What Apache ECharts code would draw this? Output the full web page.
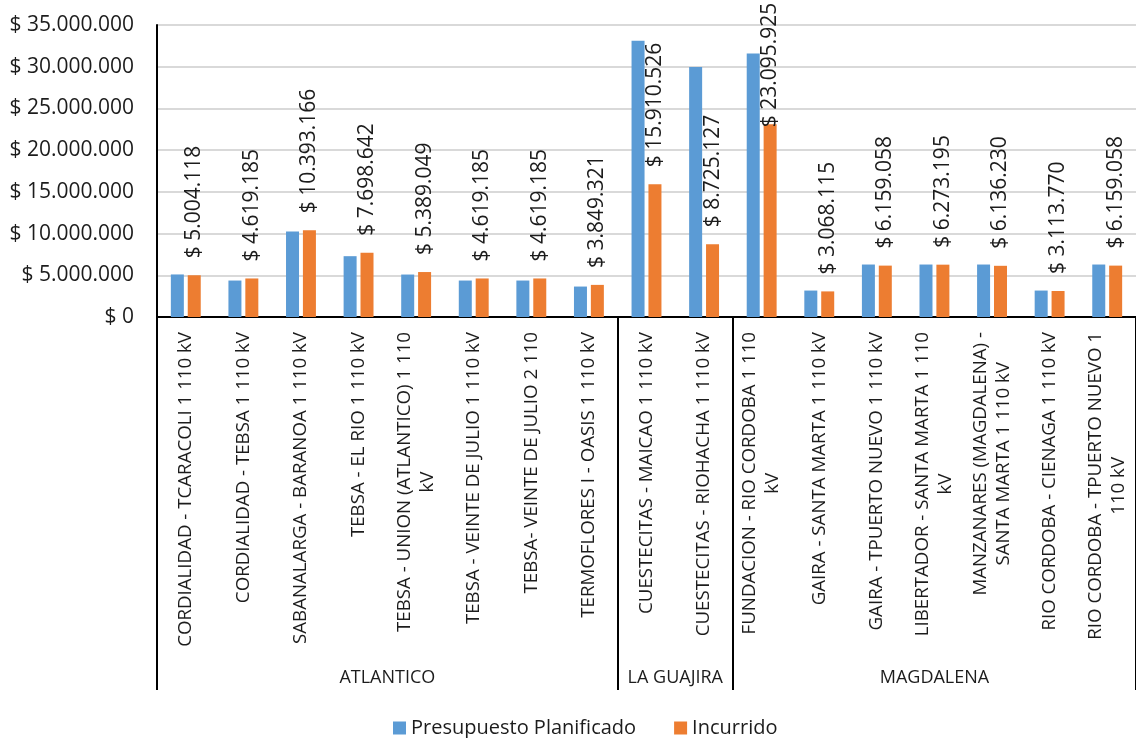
<!DOCTYPE html>
<html>
<head>
<meta charset="utf-8">
<script src="https://cdn.jsdelivr.net/npm/echarts@6/dist/echarts.min.js"></script>
<style>
  html, body { margin: 0; padding: 0; background: #ffffff; }
  #chart { width: 1136px; height: 738px; }
</style>
</head>
<body>
<div id="chart"></div>
<script>
// Transmission lines (grouped by department)
const categories = [
  'CORDIALIDAD - TCARACOLI 1 110 kV',
  'CORDIALIDAD - TEBSA 1 110 kV',
  'SABANALARGA - BARANOA 1 110 kV',
  'TEBSA - EL RIO 1 110 kV',
  'TEBSA - UNION (ATLANTICO) 1 110\nkV',
  'TEBSA - VEINTE DE JULIO 1 110 kV',
  'TEBSA- VEINTE DE JULIO 2 110',
  'TERMOFLORES I - OASIS 1 110 kV',
  'CUESTECITAS - MAICAO 1 110 kV',
  'CUESTECITAS - RIOHACHA 1 110 kV',
  'FUNDACION - RIO CORDOBA 1 110\nkV',
  'GAIRA - SANTA MARTA 1 110 kV',
  'GAIRA - TPUERTO NUEVO 1 110 kV',
  'LIBERTADOR - SANTA MARTA 1 110\nkV',
  'MANZANARES (MAGDALENA) -\nSANTA MARTA 1 110 kV',
  'RIO CORDOBA - CIENAGA 1 110 kV',
  'RIO CORDOBA - TPUERTO NUEVO 1\n110 kV'
];

const regions = ['ATLANTICO', 'LA GUAJIRA', 'MAGDALENA'];
const regionCounts = [8, 2, 7];

const planned = [
  5100000, 4370000, 10250000, 7290000, 5090000, 4370000, 4370000, 3650000,
  33100000, 29980000,
  31580000, 3170000, 6290000, 6290000, 6290000, 3170000, 6290000
];

const incurred = [
  5004118, 4619185, 10393166, 7698642, 5389049, 4619185, 4619185, 3849321,
  15910526, 8725127,
  23095925, 3068115, 6159058, 6273195, 6136230, 3113770, 6159058
];

const seriesNames = ['Presupuesto Planificado', 'Incurrido'];
const yMax = 35000000;
const yStep = 5000000;

const FONT = '"Open Sans", "Noto Sans", sans-serif';
const TEXT = '#1c1c1c';

function money(v) {
  return '$ ' + String(Math.round(v)).replace(/\B(?=(\d{3})+(?!\d))/g, '.');
}

// Region boundaries and centres on a 0..N scale that spans the category axis
const boundaries = [0];
const centers = [];
regionCounts.forEach(function (n) {
  const start = boundaries[boundaries.length - 1];
  centers.push(start + n / 2);
  boundaries.push(start + n);
});

const chart = echarts.init(document.getElementById('chart'), null, { renderer: 'canvas' });

chart.setOption({
  animation: false,
  backgroundColor: '#ffffff',
  textStyle: { fontFamily: FONT, color: TEXT },
  grid: { left: 157, top: 25, width: 58 * categories.length, height: 292, containLabel: false },
  legend: {
    data: seriesNames,
    left: 388,
    top: 713,
    itemWidth: 13,
    itemHeight: 13,
    itemGap: 38,
    icon: 'rect',
    textStyle: { fontFamily: FONT, fontSize: 20, color: TEXT }
  },
  xAxis: [
    {
      type: 'category',
      data: categories,
      axisLine: { show: true, lineStyle: { color: '#000000', width: 2 } },
      axisTick: { show: false },
      splitLine: { show: false },
      axisLabel: {
        interval: 0,
        rotate: 90,
        margin: 15,
        formatter: function (v) {
          return v.split('\n').map(function (s) { return '{c|' + s + '}'; }).join('\n');
        },
        rich: {
          c: { align: 'center', fontFamily: FONT, fontSize: 18.7, color: TEXT, lineHeight: 23 }
        }
      }
    },
    {
      // Department row beneath the line names, with separators between groups
      type: 'value',
      min: 0,
      max: categories.length,
      position: 'bottom',
      axisLine: { show: false },
      splitLine: { show: false },
      axisTick: {
        show: true,
        customValues: boundaries,
        length: 373,
        lineStyle: { color: '#000000', width: 2 }
      },
      axisLabel: {
        show: true,
        customValues: centers,
        margin: 352,
        fontFamily: FONT,
        fontSize: 18,
        color: TEXT,
        formatter: function (v) {
          const i = centers.findIndex(function (c) { return Math.abs(c - v) < 1e-6; });
          return i >= 0 ? regions[i] : '';
        }
      }
    }
  ],
  yAxis: {
    type: 'value',
    min: 0,
    max: yMax,
    interval: yStep,
    axisLine: { show: true, lineStyle: { color: '#000000', width: 2 } },
    axisTick: { show: false },
    splitLine: { show: true, lineStyle: { color: '#d9d9d9', width: 2 } },
    axisLabel: {
      margin: 23,
      fontFamily: FONT,
      fontSize: 21,
      color: TEXT,
      formatter: money
    }
  },
  series: [
    {
      name: seriesNames[0],
      type: 'bar',
      xAxisIndex: 0,
      data: planned,
      barWidth: 13,
      barGap: '30%',
      itemStyle: { color: '#5b9bd5' }
    },
    {
      name: seriesNames[1],
      type: 'bar',
      xAxisIndex: 0,
      data: incurred,
      barWidth: 13,
      barGap: '30%',
      itemStyle: { color: '#ed7d31' },
      label: {
        show: true,
        position: 'top',
        rotate: 90,
        align: 'left',
        verticalAlign: 'middle',
        distance: 17,
        fontFamily: FONT,
        fontSize: 21,
        color: TEXT,
        formatter: function (p) { return money(p.value); }
      },
      labelLayout: function (p) {
        // a label that runs off the top starts at the bar's top edge instead
        const lr = p.labelRect;
        if (lr && lr.y < 0) {
          return { x: p.rect.x + p.rect.width / 2, y: p.rect.y + 3 };
        }
        return {};
      }
    }
  ]
});
</script>
</body>
</html>
